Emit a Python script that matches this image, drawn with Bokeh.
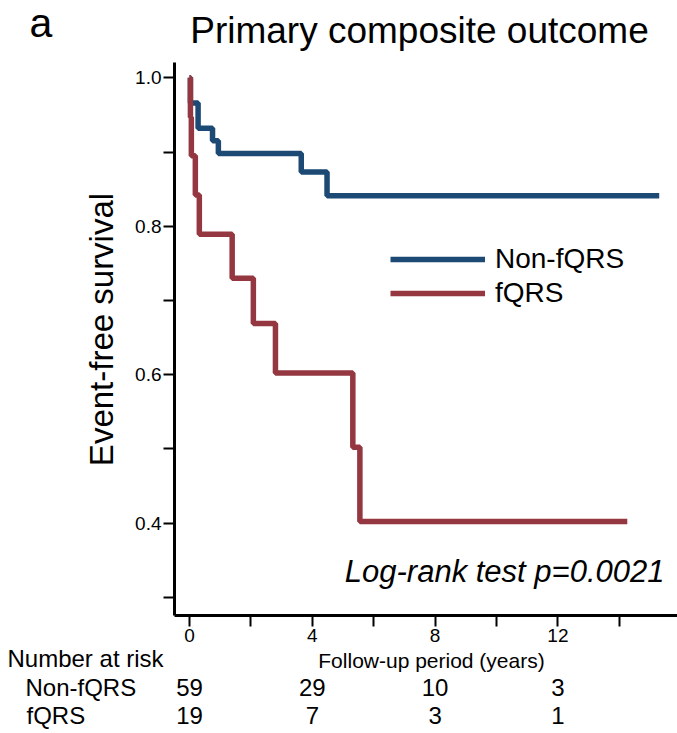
from math import pi
from bokeh.plotting import figure
from bokeh.models import (Range1d, FixedTicker, ColumnDataSource, Label, LabelSet,
                          Legend, LegendItem, NumeralTickFormatter)
from bokeh.core.properties import value
from bokeh.embed import file_html
from bokeh.resources import INLINE

# ---------------- data ----------------
nonfqrs_time = [0, 0.03, 0.28, 0.75, 0.94, 3.64, 4.48, 15.3]
nonfqrs_surv = [1.0, 0.966, 0.932, 0.915, 0.898, 0.873, 0.841, 0.841]
fqrs_time = [0, 0.03, 0.06, 0.19, 0.32, 1.39, 2.08, 2.80, 5.32, 5.55, 14.26]
fqrs_surv = [1.0, 0.947, 0.895, 0.842, 0.789, 0.730, 0.669, 0.602, 0.502, 0.402, 0.402]

risk_times = [0, 4, 8, 12]
risk_nonfqrs = [59, 29, 10, 3]
risk_fqrs = [19, 7, 3, 1]

x_major = [0, 4, 8, 12]
x_minor = [2, 6, 10, 14]
y_major = [0.4, 0.6, 0.8, 1.0]
y_minor = [0.3, 0.5, 0.7, 0.9]

# ---------------- layout (page pixels) ----------------
W, H = 677, 733
AX_L, AX_R, AX_T, AX_B = 174, 677, 62, 615   # extent of the axis rules
PX0, PXU = 189.0, 30.7      # pixel of t=0, pixels per year
PY1, PYU = 77.3, 742.0      # pixel of S=1, pixels per unit survival
MID = 0.35                  # middle of text above its baseline, in em

FONT = "Liberation Sans"
BLUE = "#1d4a74"
RED = "#943740"


def tx(px):
    """page pixel x -> time"""
    return (px - PX0) / PXU


def sy(py):
    """page pixel y -> survival"""
    return 1 - (py - PY1) / PYU


p = figure(width=W, height=H, x_range=Range1d(tx(0), tx(W)),
           y_range=Range1d(sy(H), sy(0)), output_backend="svg",
           toolbar_location=None, min_border=0)
p.min_border_left = p.min_border_right = p.min_border_top = p.min_border_bottom = 0
p.grid.visible = False
p.outline_line_color = None
p.background_fill_color = "white"
p.border_fill_color = "white"

p.xaxis.fixed_location = sy(AX_B)
p.xaxis.bounds = (tx(AX_L), tx(AX_R))
p.yaxis.fixed_location = tx(AX_L)
p.yaxis.bounds = (sy(AX_B), sy(AX_T))

for ax in (p.xaxis[0], p.yaxis[0]):
    ax.axis_line_width = 3
    ax.axis_line_color = "black"
    ax.major_tick_in = 0
    ax.minor_tick_in = 0
    ax.major_tick_out = 11
    ax.minor_tick_out = 11
    ax.major_tick_line_width = 2
    ax.minor_tick_line_width = 2
    ax.major_tick_line_color = "black"
    ax.minor_tick_line_color = "black"
    ax.major_label_text_font = FONT
    ax.major_label_text_font_size = "19px"
    ax.major_label_text_color = "black"
    ax.major_label_standoff = 2

p.xaxis.ticker = FixedTicker(ticks=x_major, minor_ticks=x_minor)
p.yaxis.ticker = FixedTicker(ticks=y_major, minor_ticks=y_minor)
p.xaxis.formatter = NumeralTickFormatter(format="0")
p.yaxis.formatter = NumeralTickFormatter(format="0.0")

r_blue = p.step(nonfqrs_time, nonfqrs_surv, mode="after", line_width=5.5, line_color=BLUE)
r_red = p.step(fqrs_time, fqrs_surv, mode="after", line_width=5.5, line_color=RED)

legend = Legend(items=[LegendItem(label="Non-fQRS", renderers=[r_blue]),
                       LegendItem(label="fQRS", renderers=[r_red])],
                location=(390, H - 310), glyph_width=95, glyph_height=34,
                label_height=34, label_standoff=10, spacing=0, padding=0, margin=0,
                border_line_alpha=0, background_fill_alpha=0,
                label_text_font=FONT, label_text_font_size="28px",
                label_text_color="black")
p.add_layout(legend)


def add_label(px, base_py, text, size, align="left", style="normal"):
    p.add_layout(Label(x=tx(px), y=sy(base_py - MID * size), text=text,
                       text_font=FONT, text_font_size=f"{size}px", text_align=align,
                       text_baseline="middle", text_font_style=style,
                       text_color="black"))


add_label(29, 37, "a", 41)
add_label(419, 43, "Primary composite outcome", 37, align="center")
add_label(664, 582, "Log-rank test p=0.0021", 31, align="right", style="italic")
add_label(431, 667, "Follow-up period (years)", 21, align="center")
add_label(7, 666.7, "Number at risk", 24)
add_label(25, 695, "Non-fQRS", 24)
add_label(26, 723.3, "fQRS", 24)

# y-axis title, rotated; baseline at x=112.5, centred at y=329
p.add_layout(Label(x=tx(112.5 - MID * 33), y=sy(329), text="Event-free survival",
                   text_font=FONT, text_font_size="33px", text_align="center",
                   text_baseline="middle", angle=pi / 2, text_color="black"))

for counts, base_py in ((risk_nonfqrs, 695), (risk_fqrs, 723.3)):
    src = ColumnDataSource(dict(x=risk_times,
                                y=[sy(base_py - MID * 24)] * len(risk_times),
                                t=[str(c) for c in counts]))
    p.add_layout(LabelSet(x="x", y="y", text="t", source=src,
                          text_font=value(FONT), text_font_size=value("24px"),
                          text_align="center", text_baseline="middle",
                          text_color="black"))

open("out.html", "w").write(file_html(p, INLINE))
